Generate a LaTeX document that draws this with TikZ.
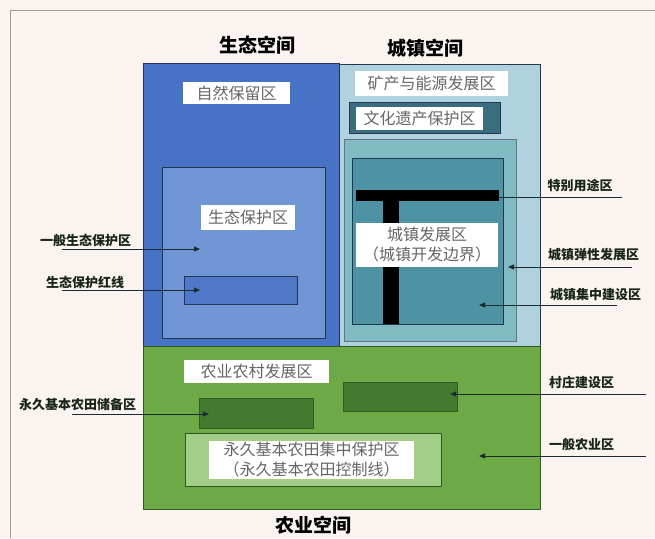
\documentclass[tikz,border=0pt]{standalone}
\usepackage{fontspec}
\newfontfamily\cjk{Noto Sans CJK SC}
\usetikzlibrary{arrows.meta}
\definecolor{bgc}{HTML}{FBF3F0}
\definecolor{framec}{HTML}{A39A96}
\definecolor{blueA}{HTML}{4773C6}
\definecolor{blueB}{HTML}{7096D6}
\definecolor{blueC}{HTML}{4F78C8}
\definecolor{cityA}{HTML}{AFD2DE}
\definecolor{cityB}{HTML}{80BAC3}
\definecolor{cityC}{HTML}{4D93A3}
\definecolor{cityD}{HTML}{3B6E7C}
\definecolor{greenA}{HTML}{6DAA45}
\definecolor{greenB}{HTML}{A3CE88}
\definecolor{greenC}{HTML}{437A2E}
\definecolor{edgec}{HTML}{243550}
\definecolor{gedge}{HTML}{2F5A22}
\definecolor{txtg}{HTML}{666666}
\definecolor{txto}{HTML}{18261A}
\definecolor{arrc}{HTML}{1E2A33}
\begin{document}
\begin{tikzpicture}[x=1pt,y=-1pt,
  zone/.style={anchor=north west,inner sep=0pt,outer sep=0pt,line width=0.8pt},
  wlabel/.style={fill=white,inner sep=0pt,outer sep=0pt,font=\cjk\fontsize{16}{20}\selectfont,text=txtg,align=center},
  olabel/.style={inner sep=0pt,font=\cjk\bfseries\fontsize{13}{15}\selectfont,text=txto},
  header/.style={inner sep=0pt,font=\cjk\bfseries\fontsize{19}{21}\selectfont,text=black},
  pointer/.style={draw=arrc,line width=0.9pt,-{Triangle[length=6pt,width=5pt]}},
  plainline/.style={draw=arrc,line width=0.9pt}]
\useasboundingbox (0,0) rectangle (655,538);
\fill[bgc] (0,0) rectangle (655,538);
\draw[framec,line width=1pt] (10,538) -- (10,10) -- (655,10);

% main zones
\node[zone,fill=blueA,draw=edgec,minimum width=196,minimum height=283] (eco) at (143,63) {};
\node[zone,fill=cityA,draw=edgec,minimum width=201,minimum height=282] (city) at (339,64) {};
\node[zone,fill=greenA,draw=gedge,minimum width=397,minimum height=163] (agri) at (143,346) {};

% ecological space
\node[zone,fill=blueB,draw=edgec,minimum width=163,minimum height=171] (ecopro) at (162,167) {};
\node[zone,fill=blueC,draw=edgec,minimum width=113,minimum height=28] (redline) at (184,276) {};
\node[wlabel,minimum width=107,minimum height=22] (nature) at (236.5,93) {自然保留区};
\node[wlabel,minimum width=94,minimum height=25] (ecolab) at (248,217.5) {生态保护区};

% urban space
\node[wlabel,minimum width=153,minimum height=25] (mineral) at (431.5,83.5) {矿产与能源发展区};
\node[zone,fill=cityD,draw=edgec,minimum width=151,minimum height=31] (heritage) at (349,102) {};
\node[wlabel,minimum width=127,minimum height=23] (herlab) at (419.5,118.5) {文化遗产保护区};
\node[zone,fill=cityB,draw=edgec!70,minimum width=172,minimum height=202] (flex) at (344,139) {};
\node[zone,fill=cityC,draw=edgec,minimum width=151,minimum height=166] (conc) at (352,158) {};
\node[zone,fill=black,minimum width=143,minimum height=11] (tbar) at (356,190) {};
\node[zone,fill=black,minimum width=16,minimum height=123] (tstem) at (383,201) {};
\node[wlabel,minimum width=142,minimum height=44] (townlab) at (427,245) {城镇发展区\\（城镇开发边界）};

% agricultural space
\node[wlabel,minimum width=145,minimum height=23] (aglab) at (256.5,371.5) {农业农村发展区};
\node[zone,fill=greenC,draw=gedge,minimum width=114,minimum height=29] (village) at (343,382) {};
\node[zone,fill=greenC,draw=gedge,minimum width=114,minimum height=30] (reserve) at (199,398) {};
\node[zone,fill=greenB,draw=gedge,minimum width=256,minimum height=53] (protect) at (185,433) {};
\node[wlabel,minimum width=205,minimum height=38] (protlab) at (311.5,460) {永久基本农田集中保护区\\（永久基本农田控制线）};

% headers
\node[header] (h1) at (257,45) {生态空间};
\node[header] (h2) at (425,48) {城镇空间};
\node[header] (h3) at (313,525) {农业空间};

% outer labels
\node[olabel] (l1) at (85.5,240) {一般生态保护区};
\node[olabel] (l2) at (85,282) {生态保护红线};
\node[olabel] (l3) at (580,185) {特别用途区};
\node[olabel] (l4) at (593.5,255) {城镇弹性发展区};
\node[olabel] (l5) at (595.5,295) {城镇集中建设区};
\node[olabel] (l6) at (581.5,382) {村庄建设区};
\node[olabel] (l7) at (77.5,405) {永久基本农田储备区};
\node[olabel] (l8) at (581.5,445) {一般农业区};

% connector endpoints
\coordinate (s1) at (62,249);   \coordinate (e1) at (200,249);
\coordinate (s2) at (62,290);   \coordinate (e2) at (200,290);
\coordinate (s3) at (622,197);
\coordinate (s4) at (632,267);  \coordinate (e4) at (508,267);
\coordinate (s5) at (617,305);  \coordinate (e5) at (479,305);
\coordinate (s6) at (646,394);  \coordinate (e6) at (450,394);
\coordinate (s7) at (72,414);   \coordinate (e7) at (209,414);
\coordinate (s8) at (646,456);  \coordinate (e8) at (479,456);

\draw[pointer] (s1) -- (e1);
\draw[pointer] (s2) -- (e2);
\draw[plainline] (s3) -- (tbar.east |- s3);
\draw[pointer] (s4) -- (e4);
\draw[pointer] (s5) -- (e5);
\draw[pointer] (s6) -- (e6);
\draw[pointer] (s7) -- (e7);
\draw[pointer] (s8) -- (e8);
\end{tikzpicture}
\end{document}
